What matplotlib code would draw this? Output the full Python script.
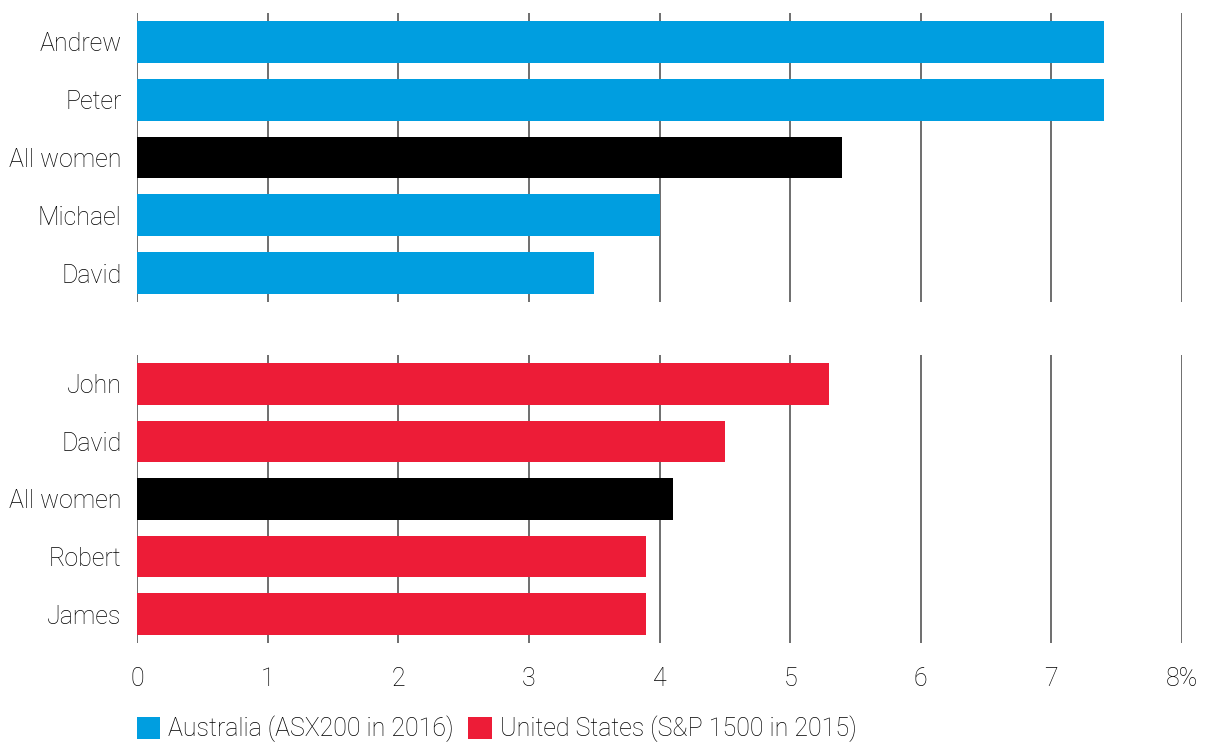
import matplotlib.pyplot as plt
from matplotlib.patches import Patch

# most common first names of CEOs vs. share of all women CEOs
aus_names = ["Andrew", "Peter", "All women", "Michael", "David"]
aus_values = [7.4, 7.4, 5.4, 4.0, 3.5]
us_names = ["John", "David", "All women", "Robert", "James"]
us_values = [5.3, 4.5, 4.1, 3.9, 3.9]
x_ticks = [0, 1, 2, 3, 4, 5, 6, 7, 8]
x_labels = ["0", "1", "2", "3", "4", "5", "6", "7", "8%"]
legend_labels = ["Australia (ASX200 in 2016)", "United States (S&P 1500 in 2015)"]

blue = "#009EE0"
red = "#ED1C37"
black = "#000000"
grid_col = "#555555"
text_col = "#000000"
font_size = 18

plt.rcParams['font.family'] = ['Roboto', 'DejaVu Sans']
plt.rcParams['font.weight'] = 'light'

fig = plt.figure(figsize=(12.15, 7.44), dpi=100)
ax1 = fig.add_axes([137/1215, 1-302/744, (1182-137)/1215, 289/744])
ax2 = fig.add_axes([137/1215, 1-643/744, (1182-137)/1215, 288/744])


def draw_panel(ax, names, values, color, show_x):
    colors = [black if n == "All women" else color for n in names]
    ax.barh(range(len(names)), values, height=0.72, color=colors, zorder=2)
    ax.set_ylim(len(names) - 0.5, -0.5)
    ax.set_xlim(0, 8)
    ax.set_yticks(range(len(names)))
    ax.set_yticklabels(names, fontsize=font_size, color=text_col)
    for x in x_ticks:
        ax.axvline(x, color=grid_col, linewidth=1.2, zorder=1)
    for s in ax.spines.values():
        s.set_visible(False)
    ax.tick_params(axis='y', length=0, pad=11)
    ax.set_xticks(x_ticks)
    if show_x:
        ax.set_xticklabels(x_labels, fontsize=font_size, color=text_col)
        ax.tick_params(axis='x', length=0, pad=17)
    else:
        ax.tick_params(axis='x', length=0, labelbottom=False)


draw_panel(ax1, aus_names, aus_values, blue, False)
draw_panel(ax2, us_names, us_values, red, True)

handles = [Patch(facecolor=blue), Patch(facecolor=red)]
fig.legend(handles, legend_labels, loc='center left', ncol=2, frameon=False,
           bbox_to_anchor=(119/1215, 1-729/744), fontsize=font_size,
           handlelength=0.95, handleheight=0.95, handletextpad=0.3,
           columnspacing=0.6, labelcolor=text_col, borderpad=0.2)

fig.savefig("out.png", dpi=100)
